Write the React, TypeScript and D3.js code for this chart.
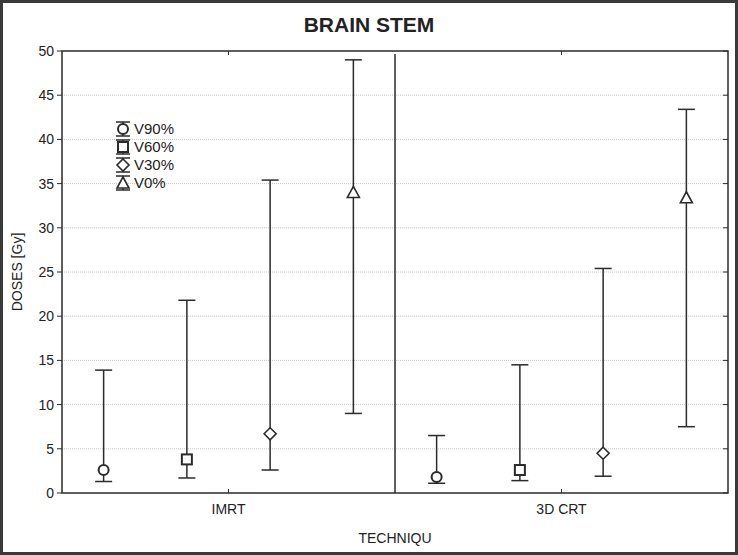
import React from "react";
import * as d3 from "d3";

const width = 738;
const height = 555;
const margin = { top: 51, right: 10, bottom: 62, left: 62 };

const categories = ["IMRT", "3D CRT"];
const seriesNames = ["V90%", "V60%", "V30%", "V0%"];
// mean values per category, series order V90, V60, V30, V0
const means = [
  [2.6, 3.8, 6.7, 34.0],
  [1.8, 2.6, 4.5, 33.4],
];
const upper = [
  [13.9, 21.8, 35.4, 49.0],
  [6.5, 14.5, 25.4, 43.4],
];
const lower = [
  [1.3, 1.7, 2.6, 9.0],
  [1.1, 1.4, 1.9, 7.5],
];
const yTicks = [0, 5, 10, 15, 20, 25, 30, 35, 40, 45, 50];

const ink = "#2b2b2b";
const font = "Liberation Sans, Arial, sans-serif";

function Marker({ kind, x, y }: { kind: number; x: number; y: number }) {
  const common = { fill: "#fff", stroke: ink, strokeWidth: 2 };
  if (kind === 0) return <circle cx={x} cy={y} r={5} {...common} />;
  if (kind === 1) return <rect x={x - 5} y={y - 5} width={10} height={10} {...common} />;
  if (kind === 2) {
    const p = d3.path();
    p.moveTo(x, y - 6);
    p.lineTo(x + 6, y);
    p.lineTo(x, y + 6);
    p.lineTo(x - 6, y);
    p.closePath();
    return <path d={p.toString()} {...common} strokeWidth={1.6} />;
  }
  const p = d3.path();
  p.moveTo(x, y - 6);
  p.lineTo(x + 6, y + 5);
  p.lineTo(x - 6, y + 5);
  p.closePath();
  return <path d={p.toString()} {...common} strokeWidth={1.6} />;
}

export default function App() {
  const x0 = margin.left;
  const x1 = width - margin.right;
  const yBottom = height - margin.bottom;
  const y1 = margin.top;

  const yScale = d3.scaleLinear().domain([0, 50]).range([yBottom, y1]);
  const xScale = d3.scaleBand().domain(categories).range([x0, x1]);
  const inner = d3
    .scalePoint()
    .domain(seriesNames)
    .range([0, xScale.bandwidth()])
    .padding(0.5);

  const cap = 8.5;

  return (
    <svg
      width={width}
      height={height}
      style={{ position: "absolute", left: 0, top: 0, background: "#fff" }}
      fontFamily={font}
    >
      <rect x={1.5} y={1.5} width={width - 3} height={height - 3} fill="#fff" stroke="#3a3a3a" strokeWidth={3} />

      <text x={width / 2} y={32} textAnchor="middle" fontSize={21} fontWeight="bold" fill="#222">
        BRAIN STEM
      </text>

      {/* grid */}
      {yTicks.slice(1, -1).map((t) => (
        <line key={t} x1={x0} x2={x1} y1={yScale(t)} y2={yScale(t)} stroke="#c8c8c8" strokeWidth={1} strokeDasharray="1,1" />
      ))}

      {/* y ticks */}
      {yTicks.map((t) => (
        <g key={t}>
          <line x1={x0 - 5} x2={x0} y1={yScale(t)} y2={yScale(t)} stroke={ink} />
          <line x1={x1 - 5} x2={x1} y1={yScale(t)} y2={yScale(t)} stroke={ink} />
          <text x={x0 - 8} y={yScale(t)} dy="0.35em" textAnchor="end" fontSize={14} fill="#222">
            {t}
          </text>
        </g>
      ))}

      {/* x ticks */}
      {categories.map((c) => {
        const cx = (xScale(c) as number) + xScale.bandwidth() / 2;
        return (
          <g key={c}>
            <line x1={cx} x2={cx} y1={y1} y2={y1 + 4} stroke={ink} />
            <line x1={cx} x2={cx} y1={yBottom} y2={yBottom - 4} stroke={ink} />
            <text x={cx} y={yBottom + 21} textAnchor="middle" fontSize={14} fill="#222">
              {c}
            </text>
          </g>
        );
      })}

      {/* divider */}
      <line
        x1={xScale(categories[1]) as number}
        x2={xScale(categories[1]) as number}
        y1={y1 + 3}
        y2={yBottom}
        stroke={ink}
        strokeWidth={1.5}
      />

      <rect x={x0} y={y1} width={x1 - x0} height={yBottom - y1} fill="none" stroke={ink} strokeWidth={1.5} />

      {/* error bars */}
      {categories.map((c, ci) =>
        seriesNames.map((s, si) => {
          const cx = (xScale(c) as number) + (inner(s) as number);
          const yu = yScale(upper[ci][si]);
          const yl = yScale(lower[ci][si]);
          return (
            <g key={c + s}>
              <line x1={cx} x2={cx} y1={yu} y2={yl} stroke={ink} strokeWidth={1.5} />
              <line x1={cx - cap} x2={cx + cap} y1={yu} y2={yu} stroke={ink} strokeWidth={1.5} />
              <line x1={cx - cap} x2={cx + cap} y1={yl} y2={yl} stroke={ink} strokeWidth={1.5} />
              <Marker kind={si} x={cx} y={yScale(means[ci][si])} />
            </g>
          );
        })
      )}

      {/* legend */}
      {seriesNames.map((s, i) => {
        const ly = 129 + i * 18;
        return (
          <g key={s}>
            <line x1={116} x2={130} y1={ly - 7} y2={ly - 7} stroke={ink} strokeWidth={1.5} />
            <line x1={116} x2={130} y1={ly + 7} y2={ly + 7} stroke={ink} strokeWidth={1.5} />
            <line x1={123} x2={123} y1={ly - 7} y2={ly + 7} stroke={ink} strokeWidth={1.5} />
            <Marker kind={i} x={123} y={ly} />
            <text x={134} y={ly} dy="0.36em" fontSize={15} fill="#222">
              {s}
            </text>
          </g>
        );
      })}

      <text
        transform={`translate(22,${(y1 + yBottom) / 2}) rotate(-90)`}
        textAnchor="middle"
        fontSize={14}
        fill="#222"
      >
        DOSES [Gy]
      </text>
      <text x={(x0 + x1) / 2} y={543} textAnchor="middle" fontSize={14} fill="#222">
        TECHNIQU
      </text>
    </svg>
  );
}
